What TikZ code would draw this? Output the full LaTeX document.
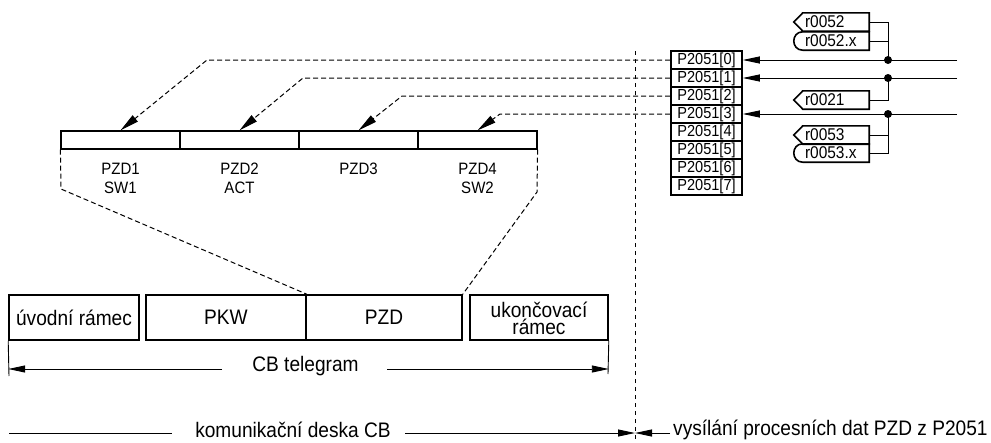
\documentclass[tikz,border=0pt]{standalone}
\usepackage{fontspec}
\setmainfont{Liberation Sans}[FakeStretch=0.91]
\usetikzlibrary{arrows.meta,calc}
\newcommand\myfs[2]{\fontsize{#1}{#2}\selectfont}
\tikzset{
 tbox/.style={draw, line width=1.6pt, inner sep=0pt, font=\myfs{21}{21}, align=center, minimum height=45pt},
 cell/.style={draw, line width=1.2pt, minimum width=119pt, minimum height=18pt, inner sep=0pt},
 prow/.style={draw, line width=1.6pt, minimum width=71pt, minimum height=18pt, inner sep=0pt, font=\myfs{16}{16}},
 rtext/.style={inner xsep=2pt, inner ysep=0pt, minimum height=18pt, text width=62pt, align=left, font=\myfs{17}{17}},
 rline/.style={line width=1.6pt, line join=miter},
 thin/.style={line width=0.9pt},
 arr/.style={-{Triangle[length=17pt,width=7pt]}, line width=0.9pt},
 darr/.style={-{Triangle[length=19pt,width=8pt]}, line width=1pt, dash pattern=on 5pt off 3pt},
 dsh/.style={line width=1pt, dash pattern=on 5pt off 3pt},
 dot/.style={circle, fill, inner sep=0pt, minimum size=8pt},
 lbl/.style={font=\myfs{16.5}{19}, align=center, inner sep=0pt, anchor=north},
 txt/.style={font=\myfs{21}{21}, inner sep=0pt},
 tline/.style={font=\myfs{21}{21}, inner sep=0pt},
}
\begin{document}
\begin{tikzpicture}[x=1pt,y=-1pt]
\useasboundingbox (0,0) rectangle (991,442);

% telegram boxes
\node[tbox, minimum width=130pt] (b1) at (74,317.5) {úvodní rámec};
\node[tbox, minimum width=160pt] (b2) at (226,317.5) {PKW};
\node[tbox, minimum width=156pt] (b3) at (384,317.5) {PZD};
\node[tbox, minimum width=138pt] (b4) at (539,317.5) {};
\node[tline, anchor=base] (u1) at (539,317) {ukončovací};
\node[tline, anchor=north] (u2) at (539,318.5) {rámec};

% PZD strip
\node[cell] (c1) at (120.5,140) {};
\node[cell] (c2) at (239.5,140) {};
\node[cell] (c3) at (358.5,140) {};
\node[cell] (c4) at (477.5,140) {};
\node[lbl] (l1) at (120.5,163) {PZD1\\SW1};
\node[lbl] (l2) at (239.5,163) {PZD2\\ACT};
\node[lbl] (l3) at (358.5,163) {PZD3};
\node[lbl] (l4) at (477.5,163) {PZD4\\SW2};

% P2051 rows
\foreach \i in {0,...,7}{
  \node[prow] (p\i) at (706.5,60+18*\i) {P2051[\i]};
}

% r boxes
\node[rtext] (r52) at (836,22) {r0052};
\node[rtext] (r52x) at (836,41) {r0052.x};
\node[rtext] (r21) at (836,100) {r0021};
\node[rtext] (r53) at (836,135) {r0053};
\node[rtext] (r53x) at (836,153) {r0053.x};
\foreach \n in {r52,r21,r53}{
  \draw[rline] (\n.north west) -- (\n.north east) -- (\n.south east) -- (\n.south west) -- ($(\n.west)+(-9,0)$) -- cycle;
}
\foreach \n in {r52x,r53x}{
  \draw[rline] (\n.north west) -- (\n.north east) -- (\n.south east) -- (\n.south west) .. controls +(-12,0) and +(-12,0) .. (\n.north west) -- cycle;
}

% dots and inputs
\node[dot] (d0) at (888,60) {};
\node[dot] (d1) at (888,78) {};
\node[dot] (d3) at (888,114) {};
\coordinate (in0) at (957,60);
\coordinate (in1) at (957,78);
\coordinate (in3) at (957,114);
\draw[arr] (in0) -- (p0.east);
\draw[arr] (in1) -- (p1.east);
\draw[arr] (in3) -- (p3.east);
\draw[thin] (r52.east) -| (d0.center);
\draw[thin] (r52x.east) -- (r52x.east -| d0.center);
\draw[thin] (r21.east) -| (d1.center);
\draw[thin] (r53.east) -- (r53.east -| d3.center);
\draw[thin] (r53x.east) -| (d3.center);

% dashed arrows to PZD strip
\coordinate (k0) at (207,60);
\coordinate (k1) at (303,78);
\coordinate (k2) at (402,96);
\coordinate (k3) at (500,114);
\draw[darr] (p0.west) -- (k0) -- (c1.north);
\draw[darr] (p1.west) -- (k1) -- (c2.north);
\draw[darr] (p2.west) -- (k2) -- (c3.north);
\draw[darr] (p3.west) -- (k3) -- (c4.north);

% expansion lines
\coordinate (e1) at (61,189);
\coordinate (e2) at (537,192);
\draw[dsh] (c1.south west) -- (e1) -- (b2.north east);
\draw[dsh] (c4.south east) -- (e2) -- (b3.north east);

% CB telegram dimension
\coordinate (t1) at (9,376);
\coordinate (t2) at (608,374);
\draw[thin] (b1.south west) -- (t1);
\draw[thin] (b4.south east) -- (t2);
\node[txt] (cb) at (305.5,366) {CB telegram};
\coordinate (cbl) at (222,369);
\coordinate (cbr) at (387,369);
\draw[arr] (cbl) -- (b1.south west |- cbl);
\draw[arr] (cbr) -- (b4.south east |- cbr);

% vertical separator
\coordinate (vt) at (635,51);
\coordinate (vb) at (635,442);
\draw[thin, dash pattern=on 4pt off 4pt] (vt) -- (vb);

% bottom labels
\node[txt] (kd) at (293,430) {komunikační deska CB};
\coordinate (kl1) at (9,433);
\coordinate (kl2) at (172,433);
\coordinate (kr1) at (405,433);
\coordinate (mid) at (635,433);
\draw[thin] (kl1) -- (kl2);
\draw[arr] (kr1) -- (mid);
\node[txt, anchor=west] (vy) at (673,430) {vysílání procesních dat PZD z P2051};
\coordinate (vl) at (670,433);
\draw[arr] (vl) -- (mid);
\end{tikzpicture}
\end{document}
